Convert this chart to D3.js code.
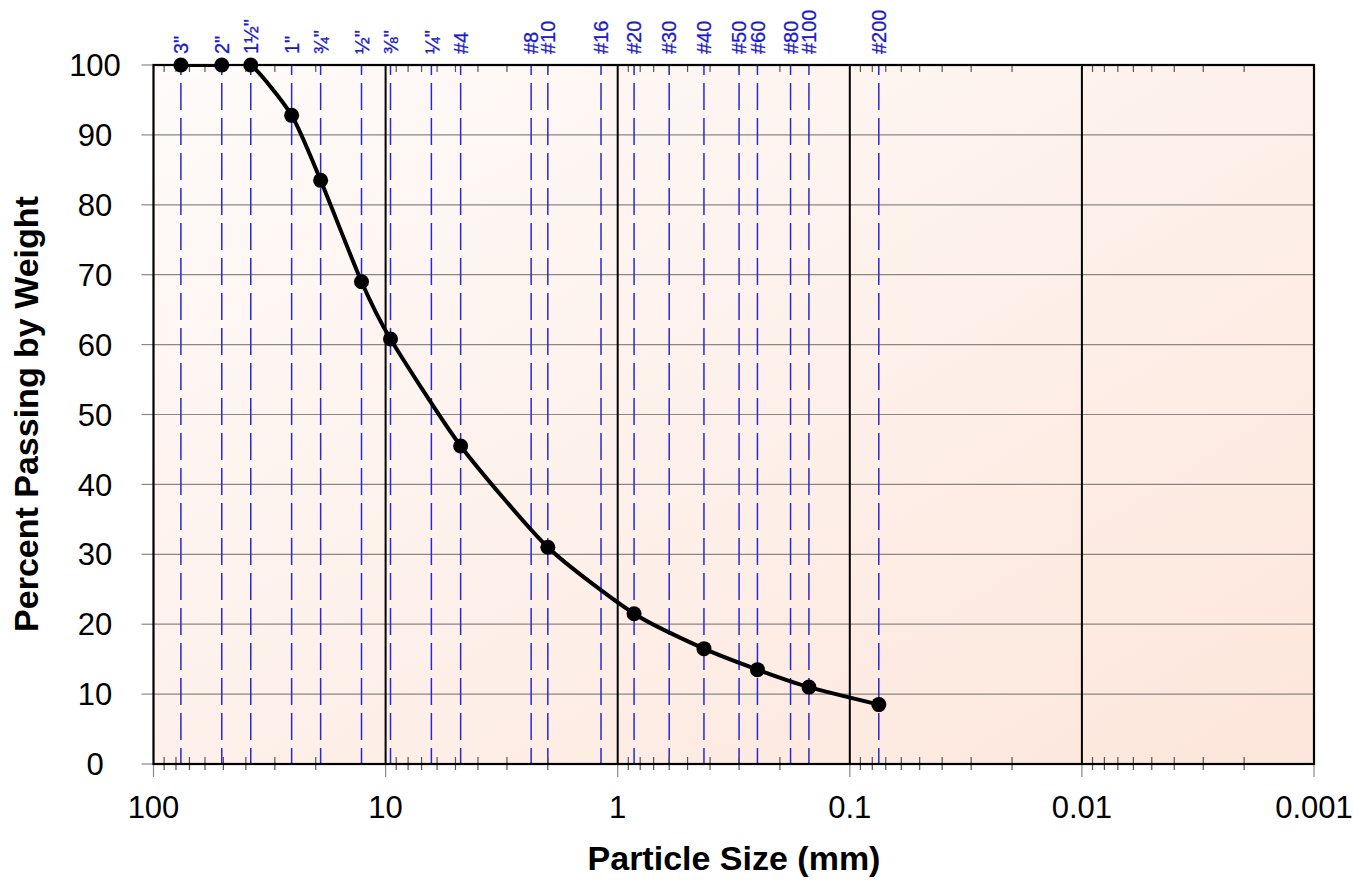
<!DOCTYPE html>
<html><head><meta charset="utf-8">
<script src="https://cdn.jsdelivr.net/npm/d3@7"></script>
<style>body{margin:0;background:#fff}svg{display:block}</style>
</head><body><svg id="c" width="1353" height="880"></svg>
<script>
const sieveLabels = ['3"','2"','1½"','1"','¾"','½"','⅜"','¼"','#4','#8','#10','#16','#20','#30','#40','#50','#60','#80','#100','#200'];
const sieveSizes = [76.2,50.8,38.1,25.4,19.05,12.7,9.525,6.35,4.75,2.36,2.0,1.18,0.85,0.6,0.425,0.3,0.25,0.18,0.15,0.075];
const sampleSizes = [76.2,50.8,38.1,25.4,19.05,12.7,9.525,4.75,2.0,0.85,0.425,0.25,0.15,0.075];
const percentPassing = [100,100,100,92.8,83.5,69,60.8,45.5,31,21.5,16.5,13.5,11,8.5];
const yTicks = [0,10,20,30,40,50,60,70,80,90,100];
const xTicks = [100,10,1,0.1,0.01,0.001];
const xTickLabels = ['100','10','1','0.1','0.01','0.001'];

const svg = d3.select('#c');
const L=153.5,R=1314,T=65,B=764;
const FONT='Liberation Sans, Arial, sans-serif';
const x = d3.scaleLog().domain([100,0.001]).range([L,R]);
const y = d3.scaleLinear().domain([0,100]).range([B,T]);

const defs = svg.append('defs');
const g = defs.append('linearGradient').attr('id','bg').attr('x1','0').attr('y1','0').attr('x2','1').attr('y2','1');
g.append('stop').attr('offset','0').attr('stop-color','#fefbfa');
g.append('stop').attr('offset','1').attr('stop-color','#fde6db');
defs.append('clipPath').attr('id','clip').append('rect').attr('x',L).attr('y',T).attr('width',R-L).attr('height',B-T);

svg.append('rect').attr('x',L).attr('y',T).attr('width',R-L).attr('height',B-T).attr('fill','url(#bg)');

// horizontal gridlines
svg.append('g').selectAll('line').data(yTicks.filter(d=>d>0&&d<100)).join('line')
  .attr('x1',L).attr('x2',R).attr('y1',d=>y(d)).attr('y2',d=>y(d))
  .attr('stroke','#8a8684').attr('stroke-width',1.2);

// sieve dashed lines
svg.append('g').selectAll('line').data(sieveSizes).join('line')
  .attr('x1',d=>x(d)).attr('x2',d=>x(d)).attr('y1',T).attr('y2',B)
  .attr('stroke','#2828d4').attr('stroke-width',1.5)
  .attr('stroke-dasharray','27,8').attr('stroke-dashoffset',17);

// decade lines
svg.append('g').selectAll('line').data(xTicks.slice(1,-1)).join('line')
  .attr('x1',d=>x(d)).attr('x2',d=>x(d)).attr('y1',T).attr('y2',B)
  .attr('stroke','#000').attr('stroke-width',2);

// minor ticks
const minors=[];
for(let e=-3;e<2;e++) for(let m=2;m<=9;m++) minors.push(m*Math.pow(10,e));
const mt = svg.append('g').attr('stroke','#555').attr('stroke-width',1.2);
mt.selectAll('.b').data(minors).join('line').attr('class','b')
  .attr('x1',d=>x(d)).attr('x2',d=>x(d)).attr('y1',B+6).attr('y2',B-7);
mt.selectAll('.t').data(minors).join('line').attr('class','t')
  .attr('x1',d=>x(d)).attr('x2',d=>x(d)).attr('y1',T).attr('y2',T+7);
// major ticks outward
mt.selectAll('.m').data(xTicks).join('line').attr('class','m')
  .attr('stroke','#888').attr('x1',d=>x(d)).attr('x2',d=>x(d)).attr('y1',B).attr('y2',B+13);
mt.selectAll('.y').data(yTicks).join('line').attr('class','y')
  .attr('stroke','#888').attr('x1',L-12).attr('x2',L).attr('y1',d=>y(d)).attr('y2',d=>y(d));

// border
svg.append('rect').attr('x',L).attr('y',T).attr('width',R-L).attr('height',B-T)
  .attr('fill','none').attr('stroke','#000').attr('stroke-width',2.2);

// curve
const pts = sampleSizes.map((s,i)=>[x(s),y(percentPassing[i])]);
svg.append('path').attr('clip-path','url(#clip)').attr('d',d3.line().curve(d3.curveCardinal.tension(0.35))(pts))
  .attr('fill','none').attr('stroke','#000').attr('stroke-width',4);
svg.append('g').selectAll('circle').data(pts).join('circle')
  .attr('cx',d=>d[0]).attr('cy',d=>d[1]).attr('r',7.5).attr('fill','#000');

// sieve labels
svg.append('g').selectAll('text').data(sieveSizes).join('text')
  .attr('transform',d=>`translate(${x(d)},54) rotate(-90)`)
  .attr('dy','0.36em').attr('text-anchor','start')
  .attr('font-family',FONT).attr('font-size',20)
  .attr('fill','#1a1acc').attr('stroke','#1a1acc').attr('stroke-width',0.3)
  .text((d,i)=>sieveLabels[i]);

// tick labels
svg.append('g').selectAll('text').data(yTicks).join('text')
  .attr('x',95).attr('y',d=>y(d)).attr('dy','0.36em').attr('text-anchor','middle')
  .attr('font-family',FONT).attr('font-size',31).text(d=>d);
svg.append('g').selectAll('text').data(xTicks).join('text')
  .attr('x',d=>x(d)).attr('y',818).attr('text-anchor','middle')
  .attr('font-family',FONT).attr('font-size',31).text((d,i)=>xTickLabels[i]);

// titles
svg.append('text').attr('x',734).attr('y',870).attr('text-anchor','middle')
  .attr('font-family',FONT).attr('font-weight','bold').attr('font-size',34)
  .text('Particle Size (mm)');
svg.append('text').attr('transform','translate(38,414) rotate(-90)').attr('text-anchor','middle')
  .attr('font-family',FONT).attr('font-weight','bold').attr('font-size',34)
  .text('Percent Passing by Weight');
</script></body></html>
